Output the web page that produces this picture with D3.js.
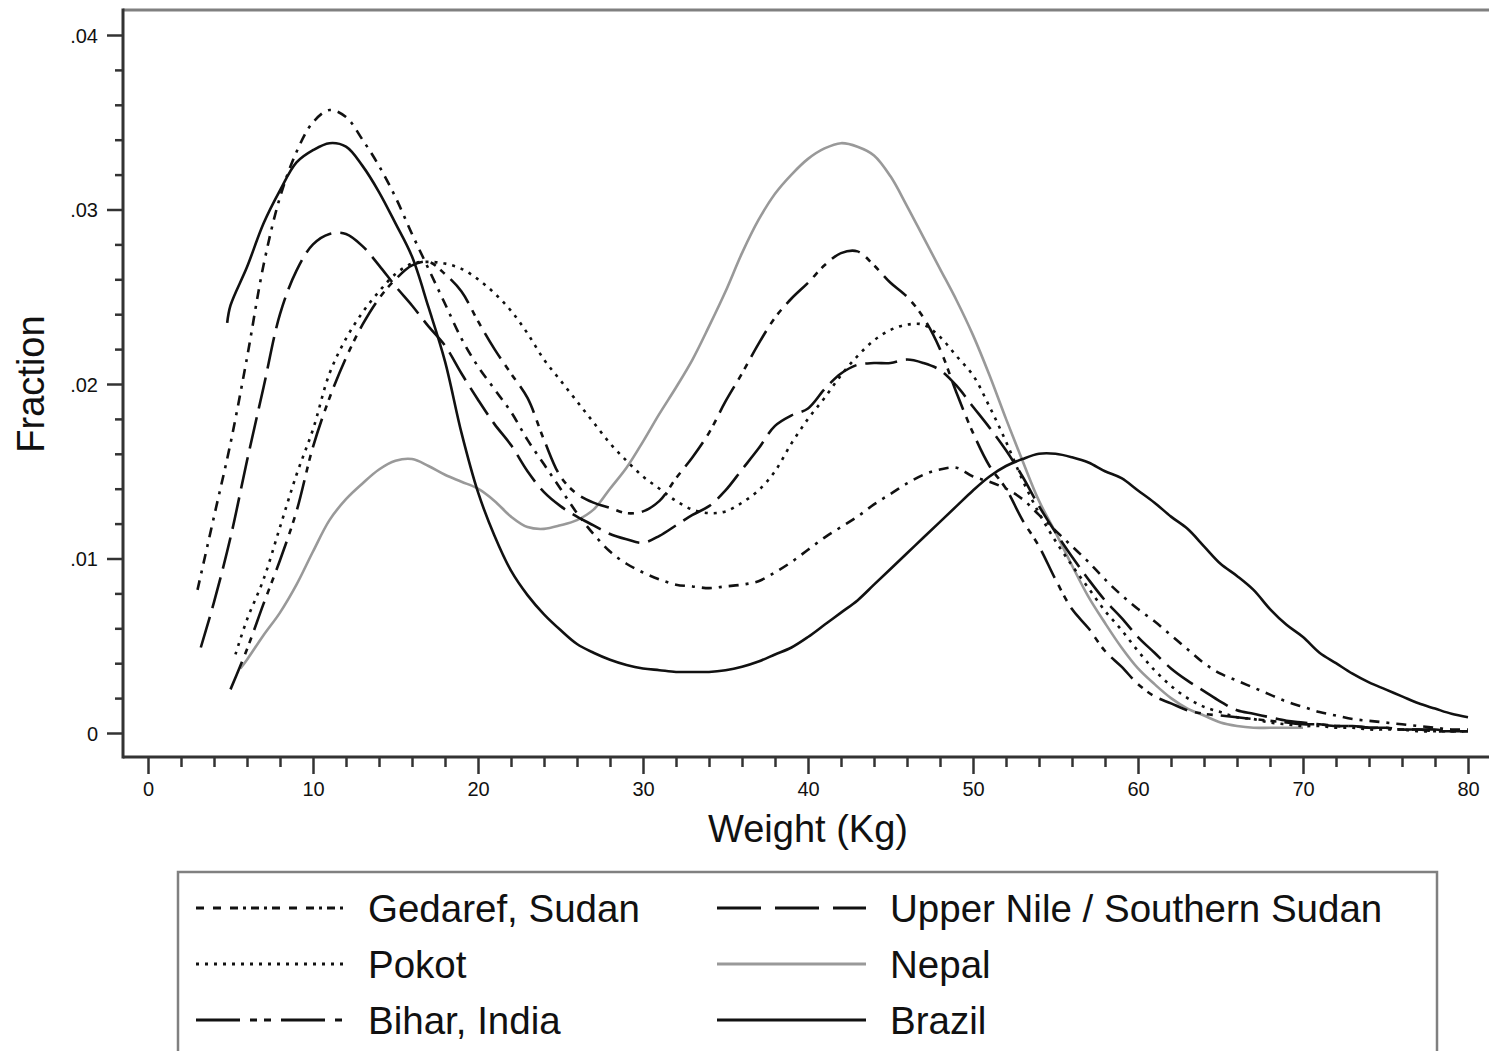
<!DOCTYPE html>
<html><head><meta charset="utf-8">
<script src="https://cdn.jsdelivr.net/npm/d3@7/dist/d3.min.js"></script>
<style>
html,body{margin:0;padding:0;background:#fff;}
svg{display:block;font-family:"Liberation Sans",Arial,Helvetica,sans-serif;}
</style></head>
<body>
<svg id="chart" width="1489" height="1051"></svg>
<script>
// ---- data ----
const seriesNames = ["Gedaref, Sudan","Upper Nile / Southern Sudan","Pokot","Nepal","Bihar, India","Brazil"];

const gedarefX = [3,4,5,6,7,8,9,10,11,12,13,14,15,16,17,18,19,20,21,22,23,24,25,26,27,28,29,30,31,32,33,34,35,36,37,38,39,40,41,42,43,44,45,46,47,48,49,50,51,52,53,54,55,56,57,58,59,60,61,62,63,64,65,66,67,68,69,70,71,72,73,74,75,76,77,78,79,80];
const gedarefY = [.0082,.0124,.0166,.0215,.0268,.0307,.0333,.035,.0357,.0353,.034,.0325,.0307,.0286,.0266,.0246,.0226,.021,.0197,.0184,.0168,.0154,.014,.0126,.0114,.0104,.0097,.0092,.0088,.0085,.0084,.0083,.0084,.0085,.0087,.0092,.0098,.0105,.0112,.0118,.0124,.0131,.0137,.0143,.0148,.0151,.0152,.0147,.0144,.014,.0134,.0125,.0116,.0107,.0098,.0088,.0079,.0071,.0064,.0056,.0048,.004,.0034,.003,.0026,.0022,.0018,.0015,.0012,.001,.0008,.0007,.0006,.0005,.0004,.0003,.0002,.0002];

const upperNileX = [3.2,4,5,6,7,8,9,10,11,12,13,14,15,16,17,18,19,20,21,22,23,24,25,26,27,28,29,30,31,32,33,34,35,36,37,38,39,40,41,42,43,44,45,46,47,48,49,50,51,52,53,54,55,56,57,58,59,60,61,62,63,64,65,66,67,68,69,70,71,72,73,74,75,76,77,78,79,80];
const upperNileY = [.0049,.0075,.0112,.0156,.0198,.024,.0265,.028,.0286,.0286,.0279,.0268,.0256,.0245,.0233,.0222,.0206,.0191,.0177,.0165,.015,.0138,.013,.0124,.0119,.0114,.0111,.0109,.0113,.0119,.0125,.013,.0139,.0151,.0163,.0176,.0182,.0186,.0197,.0206,.0211,.0212,.0212,.0214,.0212,.0208,.0199,.0187,.0175,.0162,.0147,.013,.0115,.0101,.0088,.0076,.0066,.0055,.0046,.0037,.003,.0024,.0018,.0013,.0011,.0009,.0007,.0006,.0005,.0004,.0004,.0003,.0003,.0002,.0002,.0001,.0001,.0001];

const pokotX = [5.3,6,7,8,9,10,11,12,13,14,15,16,17,18,19,20,21,22,23,24,25,26,27,28,29,30,31,32,33,34,35,36,37,38,39,40,41,42,43,44,45,46,47,48,49,50,51,52,53,54,55,56,57,58,59,60,61,62,63,64,65,66,67,68,69,70,71,72,73,74,75,76,77,78,79,80];
const pokotY = [.0045,.0065,.0088,.0118,.0148,.0174,.0206,.0226,.0241,.0253,.0263,.0269,.027,.0269,.0266,.026,.0252,.0242,.0229,.0214,.0202,.019,.0178,.0166,.0156,.0147,.014,.0133,.0128,.0126,.0127,.0132,.0139,.015,.0166,.018,.0192,.0205,.0216,.0225,.0231,.0234,.0234,.0227,.0216,.0205,.0187,.0167,.0145,.0126,.011,.0096,.0083,.007,.0059,.0047,.0036,.0027,.002,.0015,.0012,.0009,.0008,.0006,.0005,.0004,.0004,.0003,.0003,.0002,.0002,.0002,.0001,.0001,.0001,.0001];

const nepalX = [5.6,6,7,8,9,10,11,12,13,14,15,16,17,18,19,20,21,22,23,24,25,26,27,28,29,30,31,32,33,34,35,36,37,38,39,40,41,42,43,44,45,46,47,48,49,50,51,52,53,54,55,56,57,58,59,60,61,62,63,64,65,66,67,68,69,70];
const nepalY = [.0037,.0042,.0056,.0069,.0085,.0104,.0122,.0134,.0143,.0151,.0156,.0157,.0153,.0148,.0144,.014,.0133,.0124,.0118,.0117,.0119,.0122,.0128,.014,.0152,.0167,.0183,.0198,.0214,.0233,.0253,.0275,.0294,.0309,.032,.0329,.0335,.0338,.0336,.0331,.0319,.0302,.0284,.0266,.0248,.0228,.0205,.018,.0156,.0133,.0115,.0096,.0078,.0063,.0049,.0037,.0028,.002,.0014,.001,.0006,.0004,.0003,.0003,.0003,.0003];

const biharX = [5,6,7,8,9,10,11,12,13,14,15,16,17,18,19,20,21,22,23,24,25,26,27,28,29,30,31,32,33,34,35,36,37,38,39,40,41,42,43,44,45,46,47,48,49,50,51,52,53,54,55,56,57,58,59,60,61,62,63,64,65,66,67,68,69,70,71,72,73,74,75,76,77,78,79,80];
const biharY = [.0025,.0048,.0074,.0099,.0127,.0164,.0192,.0215,.0234,.0249,.026,.0268,.027,.0263,.0253,.0236,.022,.0206,.0192,.0168,.0147,.0137,.0132,.0129,.0126,.0127,.0133,.0146,.0158,.0172,.019,.0206,.0223,.0238,.0249,.0258,.0268,.0275,.0276,.0268,.0258,.025,.0238,.022,.0195,.0172,.0153,.014,.0122,.0107,.0088,.0071,.006,.0047,.0038,.0028,.0021,.0017,.0013,.0011,.001,.0009,.0008,.0007,.0006,.0005,.0005,.0004,.0004,.0003,.0003,.0002,.0002,.0002,.0001,.0001];

const brazilX = [4.8,5,6,7,8,9,10,11,12,13,14,15,16,17,18,19,20,21,22,23,24,25,26,27,28,29,30,31,32,33,34,35,36,37,38,39,40,41,42,43,44,45,46,47,48,49,50,51,52,53,54,55,56,57,58,59,60,61,62,63,64,65,66,67,68,69,70,71,72,73,74,75,76,77,78,79,80];
const brazilY = [.0235,.0245,.0267,.0292,.0311,.0327,.0334,.0338,.0336,.0325,.031,.0292,.0273,.0244,.0213,.0172,.0138,.0113,.0093,.0079,.0068,.0059,.0051,.0046,.0042,.0039,.0037,.0036,.0035,.0035,.0035,.0036,.0038,.0041,.0045,.0049,.0055,.0062,.0069,.0076,.0085,.0094,.0103,.0112,.0121,.013,.0139,.0147,.0153,.0157,.016,.016,.0158,.0155,.015,.0146,.0139,.0132,.0124,.0117,.0107,.0097,.009,.0082,.0071,.0062,.0055,.0046,.004,.0034,.0029,.0025,.0021,.0017,.0014,.0011,.0009];

const xTicks = [0,10,20,30,40,50,60,70,80];
const yTicks = [0,.01,.02,.03,.04];
const yTickLabels = ["0",".01",".02",".03",".04"];
const xTitle = "Weight (Kg)";
const yTitle = "Fraction";

// ---- layout / styles ----
const svg = d3.select("#chart");
const frame = {left:123, top:10, right:1493, bottom:757};
const x = d3.scaleLinear().domain([0,80]).range([148,1468]);
const y = d3.scaleLinear().domain([0,.04]).range([733,35]);

const styles = {
  "Gedaref, Sudan": {color:"#111", dash:"10,7,3,7"},
  "Upper Nile / Southern Sudan": {color:"#111", dash:"32,9"},
  "Pokot": {color:"#111", dash:"3,6"},
  "Nepal": {color:"#999", dash:null},
  "Bihar, India": {color:"#111", dash:"30,8,6,6,6,8"},
  "Brazil": {color:"#111", dash:null}
};
const legendDash = {
  "Gedaref, Sudan": "8,9,8,9,8,5,3,5,8,5,3,5",
  "Upper Nile / Southern Sudan": "44,14",
  "Pokot": "3,6",
  "Nepal": null,
  "Bihar, India": "44,10,7,7,7,10",
  "Brazil": null
};
const seriesData = {
  "Gedaref, Sudan": [gedarefX, gedarefY],
  "Upper Nile / Southern Sudan": [upperNileX, upperNileY],
  "Pokot": [pokotX, pokotY],
  "Nepal": [nepalX, nepalY],
  "Bihar, India": [biharX, biharY],
  "Brazil": [brazilX, brazilY]
};

// frame lines
svg.append("line").attr("x1",frame.left).attr("x2",frame.right).attr("y1",frame.top).attr("y2",frame.top)
  .attr("stroke","#808080").attr("stroke-width",3);

// axes
const yAxis = d3.axisLeft(y).tickValues(yTicks).tickFormat((d,i)=>yTickLabels[i]).tickSize(16).tickPadding(9);
const gy = svg.append("g").attr("transform",`translate(${frame.left},0)`).call(yAxis);
const yMinor = d3.axisLeft(y).tickValues(d3.range(0,0.0401,0.002).filter(v=>Math.abs(Math.round(v*100)-v*100)>1e-6)).tickFormat("").tickSize(8);
const gym = svg.append("g").attr("transform",`translate(${frame.left},0)`).call(yMinor);

const xAxis = d3.axisBottom(x).tickValues(xTicks).tickSize(17).tickPadding(8);
const gx = svg.append("g").attr("transform",`translate(0,${frame.bottom})`).call(xAxis);
const xMinor = d3.axisBottom(x).tickValues(d3.range(2,80,2).filter(v=>v%10!==0)).tickFormat("").tickSize(10);
const gxm = svg.append("g").attr("transform",`translate(0,${frame.bottom})`).call(xMinor);

[gy,gym,gx,gxm].forEach(g=>{
  g.select(".domain").remove();
  g.selectAll(".tick line").attr("stroke","#333").attr("stroke-width",2.5);
  g.selectAll(".tick text").attr("fill","#111").style("font-size","20px").style("font-family",'"Liberation Sans",Arial,sans-serif');
});
gy.selectAll(".tick text").attr("dy","0.35em");

svg.append("line").attr("x1",frame.left).attr("x2",frame.left).attr("y1",frame.top-1.5).attr("y2",frame.bottom+1.5)
  .attr("stroke","#333").attr("stroke-width",3);
svg.append("line").attr("x1",frame.left).attr("x2",frame.right).attr("y1",frame.bottom).attr("y2",frame.bottom)
  .attr("stroke","#333").attr("stroke-width",3);

// titles
svg.append("text").attr("x",(frame.left+frame.right)/2).attr("y",842).attr("text-anchor","middle")
  .style("font-size","38px").attr("fill","#111").text(xTitle);
svg.append("text").attr("transform","translate(44,384) rotate(-90)").attr("text-anchor","middle")
  .style("font-size","38px").attr("fill","#111").text(yTitle);

// curves
const line = d3.line().x(d=>x(d[0])).y(d=>y(d[1])).curve(d3.curveCatmullRom.alpha(0.5));
const plotOrder = ["Nepal","Brazil","Gedaref, Sudan","Upper Nile / Southern Sudan","Pokot","Bihar, India"];
plotOrder.forEach(name=>{
  const [xs,ys] = seriesData[name];
  const pts = xs.map((v,i)=>[v,ys[i]]);
  const st = styles[name];
  svg.append("path").datum(pts).attr("d",line).attr("fill","none")
    .attr("stroke",st.color).attr("stroke-width",2.6)
    .attr("stroke-dasharray",st.dash);
});

// legend
svg.append("rect").attr("x",178).attr("y",872).attr("width",1259).attr("height",200)
  .attr("fill","none").attr("stroke","#808080").attr("stroke-width",2.5);
const legendPos = [
  {name:"Gedaref, Sudan", lx:196, tx:368, row:0},
  {name:"Upper Nile / Southern Sudan", lx:717, tx:890, row:0},
  {name:"Pokot", lx:196, tx:368, row:1},
  {name:"Nepal", lx:717, tx:890, row:1},
  {name:"Bihar, India", lx:196, tx:368, row:2},
  {name:"Brazil", lx:717, tx:890, row:2}
];
legendPos.forEach(p=>{
  const cy = 908 + p.row*56;
  const st = styles[p.name];
  svg.append("line").attr("x1",p.lx).attr("x2",p.lx+149).attr("y1",cy).attr("y2",cy)
    .attr("stroke",st.color).attr("stroke-width",3).attr("stroke-dasharray",legendDash[p.name]);
  svg.append("text").attr("x",p.tx).attr("y",cy+14).style("font-size","38.5px").attr("fill","#111").text(p.name);
});
</script>
</body></html>
